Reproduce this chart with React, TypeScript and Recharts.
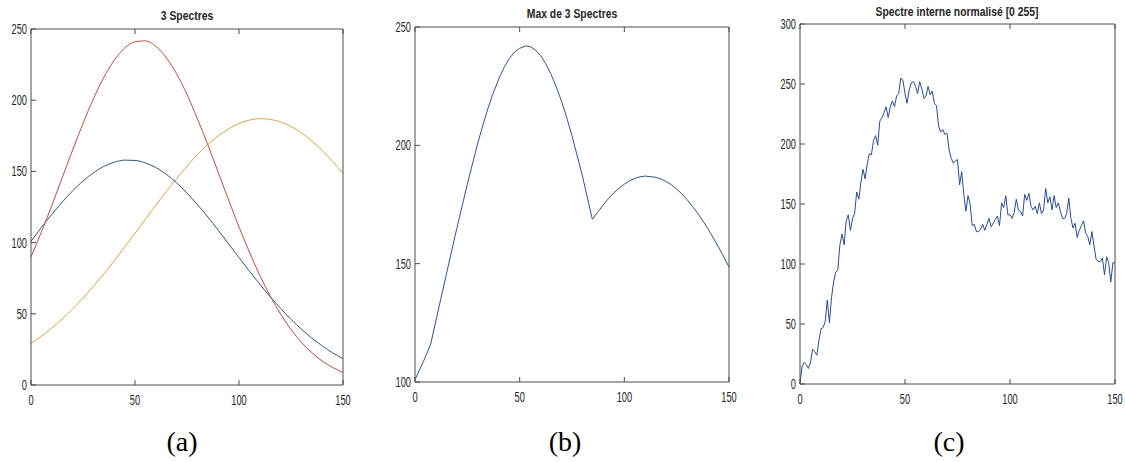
import React from 'react';
import { LineChart, Line, XAxis, YAxis } from 'recharts';

// ---------- data ----------
const xA = [0, 5, 10, 15, 20, 25, 30, 35, 40, 45, 50, 55, 60, 65, 70, 75, 80, 85, 90, 95, 100, 105, 110, 115, 120, 125, 130, 135, 140, 145, 150];
const redA = [90, 107.5, 126, 145.6, 165, 183.6, 201, 216, 228, 236.6, 241, 241.7, 237.9, 230, 218.6, 204, 187, 168.7, 149.4, 130, 111, 93.4, 77, 62.5, 49.8, 39, 30, 22.7, 16.8, 12.3, 8.8];
const blueA = [101, 110.6, 119.8, 128.4, 136.3, 143.3, 149, 153.5, 156.4, 157.9, 157.7, 156, 152.7, 148, 142, 134.8, 126.7, 118, 108.7, 99.1, 89.5, 80, 70.8, 62, 53.8, 46.1, 39.2, 33, 27.5, 22.6, 18.5];
const orangeA = [29, 34.2, 40, 46.4, 53.4, 61.1, 69.3, 78, 87.2, 96.8, 106.5, 116.4, 126.2, 135.8, 145, 153.7, 161.7, 168.8, 174.9, 179.9, 183.6, 186, 187, 186.5, 184.7, 181.5, 177, 171.4, 164.7, 157, 148.6];

const xB = [0, 5, 7.5, 10, 15, 20, 25, 30, 32.5, 35, 37.5, 40, 42.5, 45, 47.5, 50, 53, 55, 57.5, 60, 62.5, 65, 67.5, 70, 72.5, 75, 80, 84.7, 87.5, 90, 92.5, 95, 97.5, 100, 102.5, 105, 107.5, 110, 115, 117.5, 120, 122.5, 125, 127.5, 130, 135, 140, 145, 150];
const maxB = [101, 110.6, 116, 126, 145.6, 165, 183.6, 201, 208.7, 216, 222.4, 228, 232.8, 236.6, 239.4, 241, 242, 241.7, 240.3, 237.9, 234.4, 230, 224.7, 218.6, 211.7, 204, 187, 168.8, 172, 174.9, 177.6, 179.9, 181.9, 183.6, 185, 186, 186.7, 187, 186.5, 185.8, 184.7, 183.3, 181.5, 179.5, 177, 171.4, 164.7, 157, 148.6];

const cValues = [
  0, 15, 18, 16, 13, 18, 29, 27, 24, 36,
  46, 47, 52, 70, 51, 72, 85, 93, 95, 116,
  125, 116, 136, 141, 128, 138, 142, 160, 154, 168,
  179, 171, 183, 192, 191, 203, 207, 199, 219, 222,
  226, 231, 222, 231, 236, 231, 240, 242, 255, 253,
  242, 234, 245, 251, 252, 248, 242, 252, 246, 238,
  240, 248, 241, 244, 234, 232, 215, 210, 212, 208,
  209, 195, 188, 184, 186, 187, 166, 177, 158, 144,
  157, 150, 132, 133, 127, 127, 129, 133, 128, 133,
  138, 131, 134, 137, 140, 132, 151, 147, 157, 141,
  141, 138, 143, 154, 145, 144, 140, 158, 153, 159,
  148, 145, 148, 142, 151, 142, 145, 163, 151, 156,
  145, 157, 147, 151, 144, 138, 138, 142, 155, 138,
  130, 134, 122, 128, 132, 136, 126, 123, 116, 127,
  115, 104, 102, 102, 105, 91, 106, 101, 85, 101,
  101,
];

const xTicks = [0, 50, 100, 150];
const yTicksA = [0, 50, 100, 150, 200, 250];
const yTicksB = [100, 150, 200, 250];
const yTicksC = [0, 50, 100, 150, 200, 250, 300];

const titles = ['3 Spectres', 'Max de 3 Spectres', 'Spectre interne normalisé [0 255]'];
const captions = ['(a)', '(b)', '(c)'];

// ---------- derived tables ----------
const dataA = xA.map((x, i) => ({ x, red: redA[i], blue: blueA[i], orange: orangeA[i] }));
const dataB = xB.map((x, i) => ({ x, max: maxB[i] }));
const dataC = cValues.map((v, i) => ({ x: i, v }));

const SANS = '"Liberation Sans", Arial, Helvetica, sans-serif';
const TXT = '#262626';
const AXIS = '#4d4d4d';

const XTick = (props: any) => {
  const { x, y, payload } = props;
  return (
    <g transform={`translate(${x},${y + 20})`}>
      <text transform="scale(0.66,1)" textAnchor="middle" fontSize={14} fill={TXT} fontFamily={SANS}>
        {payload.value}
      </text>
    </g>
  );
};

const YTick = (props: any) => {
  const { x, y, payload } = props;
  return (
    <g transform={`translate(${x - 4},${y})`}>
      <text transform="scale(0.66,1)" textAnchor="end" dy="0.36em" fontSize={14} fill={TXT} fontFamily={SANS}>
        {payload.value}
      </text>
    </g>
  );
};

const NoTick = () => null;

type LineSpec = { key: string; color: string; type: 'monotone' | 'linear' };

function Panel(props: {
  left: number;
  width: number;
  height: number;
  pl: number;
  pr: number;
  pt: number;
  pb: number;
  data: any[];
  yDomain: [number, number];
  yTicks: number[];
  lines: LineSpec[];
}) {
  const { left, width, height, pl, pr, pt, pb, data, yDomain, yTicks, lines } = props;
  const margin = { top: pt - 1, left: 0, right: width - pr - 1, bottom: height - pb - 30 };
  return (
    <div style={{ position: 'absolute', left, top: 0, width, height }}>
      <LineChart width={width} height={height} data={data} margin={margin}>
        <XAxis
          xAxisId="b"
          dataKey="x"
          type="number"
          domain={[0, 150]}
          ticks={xTicks}
          interval={0}
          orientation="bottom"
          height={30}
          tickSize={-5}
          tickMargin={5}
          axisLine={{ stroke: AXIS }}
          tickLine={{ stroke: AXIS }}
          tick={XTick}
        />
        <XAxis
          xAxisId="t"
          dataKey="x"
          type="number"
          domain={[0, 150]}
          ticks={xTicks}
          interval={0}
          orientation="top"
          height={1}
          tickSize={-5}
          tickMargin={0}
          axisLine={{ stroke: AXIS }}
          tickLine={{ stroke: AXIS }}
          tick={NoTick}
        />
        <YAxis
          yAxisId="l"
          type="number"
          domain={yDomain}
          ticks={yTicks}
          interval={0}
          orientation="left"
          width={pl}
          tickSize={-5}
          tickMargin={5}
          axisLine={{ stroke: AXIS }}
          tickLine={{ stroke: AXIS }}
          tick={YTick}
        />
        <YAxis
          yAxisId="r"
          type="number"
          domain={yDomain}
          ticks={yTicks}
          interval={0}
          orientation="right"
          width={1}
          tickSize={-5}
          tickMargin={0}
          axisLine={{ stroke: AXIS }}
          tickLine={{ stroke: AXIS }}
          tick={NoTick}
        />
        {lines.map((l) => (
          <Line
            key={l.key}
            xAxisId="b"
            yAxisId="l"
            dataKey={l.key}
            type={l.type}
            stroke={l.color}
            strokeWidth={1}
            dot={false}
            activeDot={false}
            isAnimationActive={false}
          />
        ))}
      </LineChart>
    </div>
  );
}

export default function App() {
  return (
    <div style={{ position: 'absolute', left: 0, top: 0, width: 1125, height: 462, background: '#fff', overflow: 'hidden' }}>
      <Panel
        left={0}
        width={360}
        height={420}
        pl={31}
        pr={343}
        pt={29}
        pb={385}
        data={dataA}
        yDomain={[0, 250]}
        yTicks={yTicksA}
        lines={[
          { key: 'orange', color: '#f0a03c', type: 'monotone' },
          { key: 'blue', color: '#2f52a3', type: 'monotone' },
          { key: 'red', color: '#cc4a40', type: 'monotone' },
        ]}
      />
      <Panel
        left={380}
        width={370}
        height={420}
        pl={35}
        pr={349}
        pt={27}
        pb={382}
        data={dataB}
        yDomain={[100, 250]}
        yTicks={yTicksB}
        lines={[{ key: 'max', color: '#2f52a3', type: 'linear' }]}
      />
      <Panel
        left={760}
        width={365}
        height={420}
        pl={40}
        pr={355}
        pt={24}
        pb={384}
        data={dataC}
        yDomain={[0, 300]}
        yTicks={yTicksC}
        lines={[{ key: 'v', color: '#2a4c9e', type: 'linear' }]}
      />
      <svg
        width={1125}
        height={462}
        style={{ position: 'absolute', left: 0, top: 0, pointerEvents: 'none' }}
      >
        {[
          { cx: 187, y: 20 },
          { cx: 572, y: 18 },
          { cx: 957, y: 16 },
        ].map((p, i) => (
          <g key={'t' + i} transform={`translate(${p.cx},${p.y})`}>
            <text transform="scale(0.83,1)" textAnchor="middle" fontSize={12.5} fontWeight="bold" fill={TXT} fontFamily={SANS}>
              {titles[i]}
            </text>
          </g>
        ))}
        {[182, 565, 949].map((cx, i) => (
          <text
            key={'c' + i}
            x={cx}
            y={451}
            textAnchor="middle"
            fontSize={28}
            fill="#000"
            fontFamily='"Liberation Serif", "Times New Roman", serif'
          >
            {captions[i]}
          </text>
        ))}
      </svg>
    </div>
  );
}
